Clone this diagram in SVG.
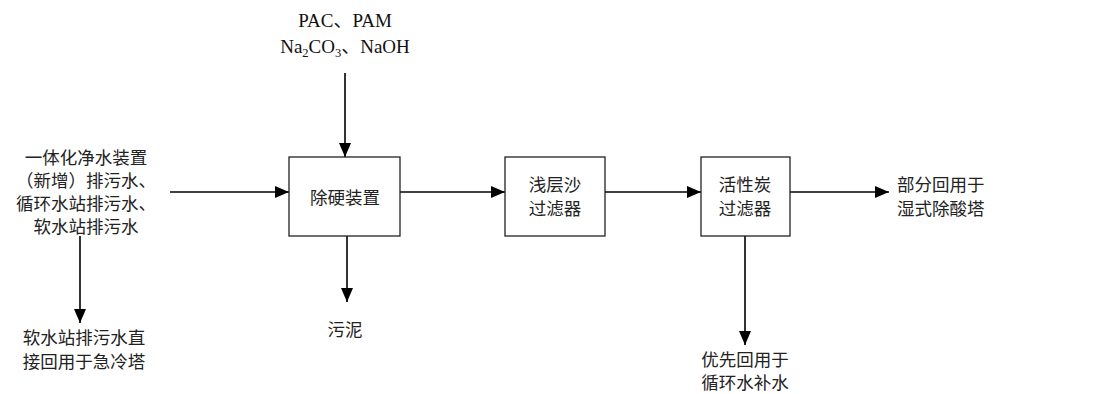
<svg xmlns="http://www.w3.org/2000/svg" width="1099" height="394" viewBox="0 0 1099 394">
  <defs>
    <marker id="arrow" markerWidth="14" markerHeight="12" refX="14" refY="6" orient="auto" markerUnits="userSpaceOnUse">
      <path d="M0,0 L14,6 L0,12 Z" fill="#000"/>
    </marker>
  </defs>
  <style>
    .box { fill: #fff; stroke: #222; stroke-width: 1.3; }
    .line { fill: none; stroke: #000; stroke-width: 1.6; marker-end: url(#arrow); }
    .cn { font-family: "Noto Sans CJK SC", "Noto Sans", sans-serif; font-size: 17.5px; fill: #222; }
    .en { font-family: "Liberation Serif", "Noto Sans CJK SC", serif; font-size: 19px; fill: #111; }
    .mid { text-anchor: middle; }
  </style>
  <rect width="1099" height="394" fill="#fff"/>

  <!-- connectors -->
  <g id="connectors">
    <line class="line" x1="345" y1="73" x2="345" y2="157"/>
    <line class="line" x1="170" y1="192" x2="289" y2="192"/>
    <line class="line" x1="80" y1="236" x2="80" y2="323"/>
    <line class="line" x1="347" y1="236" x2="347" y2="302"/>
    <line class="line" x1="400" y1="192" x2="505" y2="192"/>
    <line class="line" x1="605" y1="192" x2="701" y2="192"/>
    <line class="line" x1="790" y1="192" x2="889" y2="192"/>
    <line class="line" x1="745" y1="236" x2="745" y2="345"/>
  </g>

  <!-- chemical dosing label -->
  <g id="dosing">
    <text class="en mid" x="345" y="27">PAC、PAM</text>
    <text class="en mid" x="345" y="53">Na<tspan font-size="12.5" dy="4">2</tspan><tspan dy="-4">CO</tspan><tspan font-size="12.5" dy="4">3</tspan><tspan dy="-4">、NaOH</tspan></text>
  </g>

  <!-- inflow label -->
  <g id="inflow">
    <text class="cn mid" x="86" y="164">一体化净水装置</text>
    <text class="cn mid" x="86" y="187">（新增）排污水、</text>
    <text class="cn mid" x="86" y="210">循环水站排污水、</text>
    <text class="cn mid" x="86" y="233">软水站排污水</text>
  </g>

  <g id="quench-reuse">
    <text class="cn mid" x="84" y="344">软水站排污水直</text>
    <text class="cn mid" x="84" y="368">接回用于急冷塔</text>
  </g>

  <g id="softener">
    <rect class="box" x="289" y="157" width="111" height="79"/>
    <text class="cn mid" x="345" y="204">除硬装置</text>
  </g>

  <g id="sludge">
    <text class="cn mid" x="345" y="336">污泥</text>
  </g>

  <g id="sand-filter">
    <rect class="box" x="505" y="157" width="100" height="79"/>
    <text class="cn mid" x="555" y="191">浅层沙</text>
    <text class="cn mid" x="555" y="215">过滤器</text>
  </g>

  <g id="carbon-filter">
    <rect class="box" x="701" y="157" width="89" height="79"/>
    <text class="cn mid" x="745" y="191">活性炭</text>
    <text class="cn mid" x="745" y="215">过滤器</text>
  </g>

  <g id="scrubber-reuse">
    <text class="cn" x="897" y="191">部分回用于</text>
    <text class="cn" x="897" y="215">湿式除酸塔</text>
  </g>

  <g id="cooling-reuse">
    <text class="cn mid" x="745" y="366">优先回用于</text>
    <text class="cn mid" x="745" y="389">循环水补水</text>
  </g>
</svg>
